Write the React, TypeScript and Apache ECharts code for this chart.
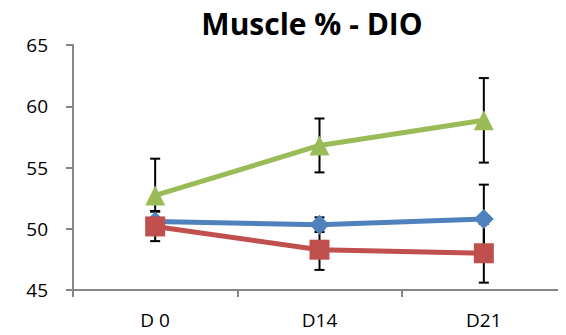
import React, { useEffect, useRef } from "react";
import * as echarts from "echarts";

const categories = ["D 0", "D14", "D21"];
const blueValues = [50.6, 50.33, 50.8];
const blueErrors = [0.85, 0.6, 2.8];
const redValues = [50.19, 48.29, 48.0];
const redErrors = [1.2, 1.65, 2.4];
const greenValues = [52.72, 56.8, 58.85];
const greenErrors = [3.0, 2.2, 3.45];

const FONT = "'Open Sans', 'Noto Sans', sans-serif";
const AXIS_GREY = "#868686";

function errorSeries(values: number[], errors: number[]) {
  return {
    type: "custom",
    z: 1,
    silent: true,
    data: values.map((v, i) => [i, v - errors[i], v + errors[i]]),
    renderItem: (params: any, api: any) => {
      const x = api.value(0);
      const lo = api.coord([x, api.value(1)]);
      const hi = api.coord([x, api.value(2)]);
      const half = 5;
      const style = { stroke: "#000", lineWidth: 2 };
      return {
        type: "group",
        children: [
          { type: "line", shape: { x1: lo[0], y1: lo[1], x2: hi[0], y2: hi[1] }, style },
          { type: "line", shape: { x1: lo[0] - half, y1: lo[1], x2: lo[0] + half, y2: lo[1] }, style },
          { type: "line", shape: { x1: hi[0] - half, y1: hi[1], x2: hi[0] + half, y2: hi[1] }, style },
        ],
      };
    },
  };
}

function lineSeries(name: string, values: number[], color: string, symbol: string, size: number) {
  return {
    name,
    type: "line",
    z: 3,
    data: values,
    symbol,
    symbolSize: size,
    lineStyle: { color, width: 5 },
    itemStyle: { color },
  };
}

export default function App() {
  const ref = useRef<HTMLDivElement>(null);

  useEffect(() => {
    if (!ref.current) return;
    const chart = echarts.init(ref.current, null, { renderer: "svg" });
    chart.setOption({
      animation: false,
      backgroundColor: "#fff",
      title: {
        text: "Muscle % - DIO",
        left: 307,
        textAlign: "center",
        top: 3,
        textStyle: { fontFamily: FONT, fontSize: 30, fontWeight: "bold", color: "#000" },
      },
      grid: { left: 73, right: -14, top: 45, bottom: 45, containLabel: false },
      xAxis: {
        type: "category",
        data: categories,
        boundaryGap: true,
        axisLine: { lineStyle: { color: AXIS_GREY, width: 2 } },
        axisTick: { show: true, length: 7, lineStyle: { color: AXIS_GREY, width: 2 } },
        axisLabel: { margin: 20, fontFamily: FONT, fontSize: 19, color: "#000" },
        splitLine: { show: false },
      },
      yAxis: {
        type: "value",
        min: 45,
        max: 65,
        interval: 5,
        axisLine: { show: true, lineStyle: { color: AXIS_GREY, width: 2 } },
        axisTick: { show: true, length: 7, lineStyle: { color: AXIS_GREY, width: 2 } },
        axisLabel: { margin: 25, fontFamily: FONT, fontSize: 19, color: "#000" },
        splitLine: { show: false },
      },
      series: [
        errorSeries(blueValues, blueErrors),
        errorSeries(redValues, redErrors),
        errorSeries(greenValues, greenErrors),
        lineSeries("Blue", blueValues, "#4F81BD", "diamond", 20),
        lineSeries("Red", redValues, "#C0504D", "rect", 20),
        lineSeries("Green", greenValues, "#9BBB59", "triangle", 20),
      ],
    });
    return () => chart.dispose();
  }, []);

  return <div ref={ref} style={{ width: 566, height: 335, margin: -8 }} />;
}
